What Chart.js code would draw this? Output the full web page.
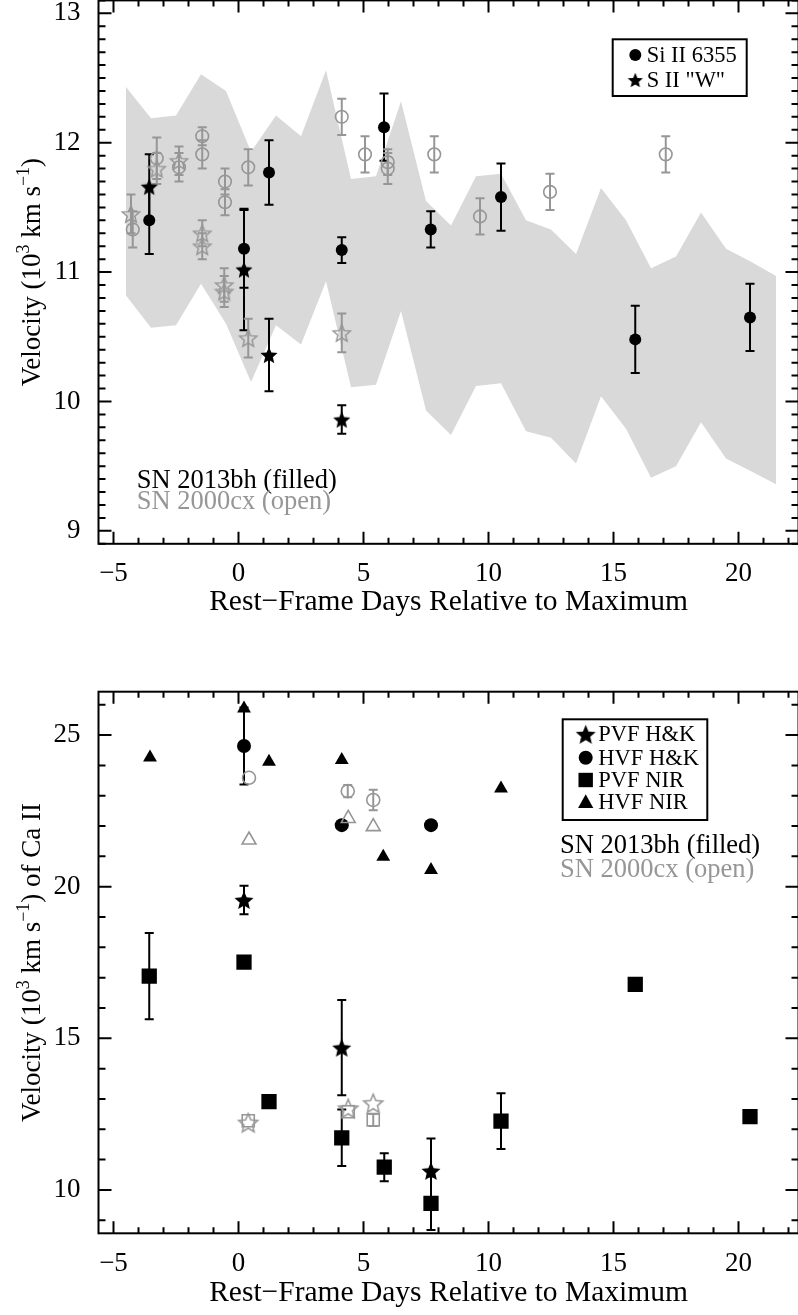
<!DOCTYPE html>
<html>
<head>
<meta charset="utf-8">
<script src="https://cdn.jsdelivr.net/npm/chart.js@4.4.0/dist/chart.umd.min.js"></script>
<style>
    html, body { margin: 0; padding: 0; background: #fff; overflow: hidden; }
    canvas { position: absolute; left: 0; }
    #graphique_si { top: 0; }
    #graphique_ca { top: 640px; }
</style>
</head>
<body>
<canvas id="graphique_si" width="800" height="640"></canvas>
<canvas id="graphique_ca" width="800" height="675"></canvas>
<script>
// ---- donnees : panneau du haut (Si II / S II) ----
const joursBande = [-4.5, -3.5, -2.5, -1.5, -0.5, 0.5, 1.5, 2.5, 3.5, 4.5, 5.5, 6.5, 7.5, 8.5, 9.5, 10.5, 11.5, 12.5, 13.5, 14.5, 15.5, 16.5, 17.5, 18.5, 19.5, 20.5, 21.5];
const bandeHaut = [12.43, 12.19, 12.21, 12.53, 12.40, 11.93, 12.21, 12.05, 12.56, 11.72, 11.74, 12.32, 11.55, 11.36, 11.74, 11.76, 11.40, 11.33, 11.14, 11.65, 11.40, 11.03, 11.12, 11.46, 11.18, 11.08, 10.97];
const bandeBas = [10.82, 10.57, 10.59, 10.91, 10.60, 10.15, 10.59, 10.44, 10.93, 10.11, 10.13, 10.70, 9.93, 9.74, 10.12, 10.14, 9.77, 9.72, 9.52, 10.04, 9.79, 9.41, 9.50, 9.84, 9.56, 9.46, 9.36];

const siJours = [-3.57, 0.22, 1.22, 4.13, 5.82, 7.69, 10.5, 15.87, 20.46];
const siVitesse = [11.40, 11.18, 11.77, 11.17, 12.12, 11.33, 11.58, 10.48, 10.65];
const siErreur = [0.26, 0.30, 0.25, 0.10, 0.26, 0.14, 0.26, 0.26, 0.26];

const sJours = [-3.57, 0.22, 1.22, 4.13];
const sVitesse = [11.66, 11.02, 10.36, 9.86];
const sErreur = [0.25, 0.47, 0.28, 0.11];

const cxSiJours = [-4.23, -3.27, -2.38, -1.45, -1.45, -0.54, -0.54, 0.39, 4.13, 5.06, 5.97, 5.97, 7.83, 9.66, 12.46, 17.09];
const cxSiVitesse = [11.33, 11.88, 11.81, 12.05, 11.91, 11.70, 11.54, 11.81, 12.20, 11.91, 11.85, 11.80, 11.91, 11.43, 11.62, 11.91];
const cxSiErreur = [0.14, 0.16, 0.11, 0.07, 0.11, 0.10, 0.10, 0.14, 0.14, 0.14, 0.10, 0.12, 0.14, 0.14, 0.14, 0.14];

const cxSJours = [-4.30, -3.27, -2.38, -1.45, -1.45, -0.57, -0.57, 0.39, 4.13];
const cxSVitesse = [11.45, 11.80, 11.86, 11.30, 11.20, 10.90, 10.85, 10.49, 10.53];
const cxSErreur = [0.15, 0.12, 0.11, 0.10, 0.10, 0.13, 0.12, 0.15, 0.15];

// ---- donnees : panneau du bas (Ca II) ----
const pvfHkJours = [0.22, 4.13, 7.70];
const pvfHkVitesse = [19.56, 14.69, 10.63];
const pvfHkErreur = [0.47, 1.57, 1.07];

const hvfHkJours = [0.22, 4.13, 7.70];
const hvfHkVitesse = [24.64, 22.03, 22.03];
const hvfHkErreur = [1.27, 0, 0];

const pvfNirJours = [-3.57, 0.22, 1.22, 4.13, 5.83, 7.70, 10.5, 15.87, 20.46];
const pvfNirVitesse = [17.05, 17.51, 12.91, 11.72, 10.75, 9.56, 12.27, 16.78, 12.42];
const pvfNirErreur = [1.42, 0, 0, 0.93, 0.46, 0.88, 0.92, 0, 0];

const hvfNirJours = [-3.54, 0.22, 1.22, 4.13, 5.79, 7.70, 10.5];
const hvfNirVitesse = [24.26, 25.88, 24.12, 24.18, 20.99, 20.55, 23.24];

const cxPvfHkJours = [0.39, 4.39, 5.39];
const cxPvfHkVitesse = [12.22, 12.69, 12.86];
const cxHvfHkJours = [0.42, 4.37, 5.39];
const cxHvfHkVitesse = [23.59, 23.15, 22.86];
const cxHvfHkErreur = [0, 0.20, 0.34];
const cxPvfNirJours = [0.39, 4.39, 5.39];
const cxPvfNirVitesse = [12.28, 12.58, 12.31];
const cxPvfNirErreur = [0, 0, 0.20];
const cxHvfNirJours = [0.42, 4.39, 5.39];
const cxHvfNirVitesse = [21.54, 22.25, 21.98];

const joursTicks = [-5, 0, 5, 10, 15, 20];

const GRIS = '#969696';
const BANDE = '#d9d9d9';
const POLICE = 'Liberation Serif';

function points(xs, ys) {
    return xs.map(function (x, i) { return { x: x, y: ys[i] }; });
}

function signe(v) {
    return v < 0 ? '\u2212' + Math.abs(v) : String(v);
}

// etoile a 5 branches, dessinee dans un petit canvas
function etoile(rayon, plein, couleur) {
    const c = document.createElement('canvas');
    const t = Math.ceil(rayon * 2 + 4);
    c.width = t;
    c.height = t;
    const ctx = c.getContext('2d');
    ctx.translate(t / 2, t / 2 + rayon * 0.1);
    ctx.beginPath();
    for (let i = 0; i < 10; i++) {
        const r = i % 2 === 0 ? rayon : rayon * 0.45;
        const a = -Math.PI / 2 + i * Math.PI / 5;
        ctx.lineTo(r * Math.cos(a), r * Math.sin(a));
    }
    ctx.closePath();
    if (plein) {
        ctx.fillStyle = couleur;
        ctx.fill();
    } else {
        ctx.strokeStyle = couleur;
        ctx.lineWidth = 1.5;
        ctx.stroke();
    }
    return c;
}

const etoileNoire = etoile(9, true, 'black');
const etoileGrise = etoile(9, false, GRIS);
const etoileNoireBas = etoile(10, true, 'black');
const etoileGriseBas = etoile(10, false, GRIS);

// barres d'erreur, cadre, ticks internes
function pluginErreurs() {
    return {
        id: 'erreurs',
        beforeDatasetsDraw(chart) {
            const ctx = chart.ctx;
            const y = chart.scales.y;
            chart.data.datasets.forEach(function (ds, i) {
                if (!ds.erreurs) return;
                const meta = chart.getDatasetMeta(i);
                ctx.save();
                ctx.strokeStyle = ds.couleurErreur;
                ctx.lineWidth = 2;
                ds.data.forEach(function (p, j) {
                    const e = ds.erreurs[j];
                    if (!e) return;
                    const px = meta.data[j].x;
                    const haut = y.getPixelForValue(p.y + e);
                    const bas = y.getPixelForValue(p.y - e);
                    ctx.beginPath();
                    ctx.moveTo(px, haut); ctx.lineTo(px, bas);
                    ctx.moveTo(px - 4.5, haut); ctx.lineTo(px + 4.5, haut);
                    ctx.moveTo(px - 4.5, bas); ctx.lineTo(px + 4.5, bas);
                    ctx.stroke();
                });
                ctx.restore();
            });
        }
    };
}

function pluginCadre(pasY, pasMinY) {
    return {
        id: 'cadre',
        afterDraw(chart) {
            const ctx = chart.ctx;
            const a = chart.chartArea;
            const sx = chart.scales.x;
            const sy = chart.scales.y;
            ctx.save();
            ctx.strokeStyle = 'black';
            ctx.lineWidth = 2;
            ctx.strokeRect(a.left, a.top, a.right - a.left, a.bottom - a.top);
            ctx.beginPath();
            for (let k = Math.ceil(sx.min); k <= sx.max; k++) {
                const px = sx.getPixelForValue(k);
                const l = k % 5 === 0 ? 12 : 6;
                ctx.moveTo(px, a.bottom); ctx.lineTo(px, a.bottom - l);
                ctx.moveTo(px, a.top); ctx.lineTo(px, a.top + l);
            }
            for (let k = Math.ceil(sy.min / pasMinY - 1e-6); k * pasMinY <= sy.max + 1e-9; k++) {
                const v = k * pasMinY;
                const py = sy.getPixelForValue(v);
                const r = v / pasY;
                const l = Math.abs(r - Math.round(r)) < 1e-6 ? 13 : 7;
                ctx.moveTo(a.left, py); ctx.lineTo(a.left + l, py);
                ctx.moveTo(a.right, py); ctx.lineTo(a.right - l, py);
            }
            ctx.stroke();
            ctx.restore();
        }
    };
}

function pluginTitreY(morceaux, xBase) {
    return {
        id: 'titreY',
        afterDraw(chart) {
            const ctx = chart.ctx;
            const a = chart.chartArea;
            const normal = '27px "' + POLICE + '"';
            const petit = '18px "' + POLICE + '"';
            let total = 0;
            morceaux.forEach(function (m) {
                ctx.font = m[1] ? petit : normal;
                total += ctx.measureText(m[0]).width;
            });
            ctx.save();
            ctx.translate(xBase, (a.top + a.bottom) / 2);
            ctx.rotate(-Math.PI / 2);
            ctx.fillStyle = 'black';
            ctx.textBaseline = 'alphabetic';
            let x = -total / 2;
            morceaux.forEach(function (m) {
                ctx.font = m[1] ? petit : normal;
                ctx.fillText(m[0], x, m[1] ? -11 : 0);
                x += ctx.measureText(m[0]).width;
            });
            ctx.restore();
        }
    };
}

function dessinerSymbole(ctx, type, x, y, taille) {
    ctx.fillStyle = 'black';
    if (type === 'cercle') {
        ctx.beginPath(); ctx.arc(x, y, taille, 0, Math.PI * 2); ctx.fill();
    } else if (type === 'carre') {
        ctx.fillRect(x - taille, y - taille, taille * 2, taille * 2);
    } else if (type === 'triangle') {
        ctx.beginPath();
        ctx.moveTo(x, y - taille);
        ctx.lineTo(x + taille * 0.95, y + taille * 0.7);
        ctx.lineTo(x - taille * 0.95, y + taille * 0.7);
        ctx.closePath(); ctx.fill();
    } else {
        const img = etoile(taille, true, 'black');
        ctx.drawImage(img, x - img.width / 2, y - img.height / 2);
    }
}

// legende encadree + textes SN
function pluginLegende(boite, lignes, textes) {
    return {
        id: 'legende',
        afterDraw(chart) {
            const ctx = chart.ctx;
            const dy = chart.canvas.offsetTop;
            ctx.save();
            ctx.fillStyle = 'white';
            ctx.fillRect(boite[0], boite[1] - dy, boite[2], boite[3]);
            ctx.strokeStyle = 'black';
            ctx.lineWidth = 2;
            ctx.strokeRect(boite[0], boite[1] - dy, boite[2], boite[3]);
            ctx.font = '22.5px "' + POLICE + '"';
            ctx.textBaseline = 'middle';
            lignes.forEach(function (l) {
                dessinerSymbole(ctx, l.symbole, l.x, l.y - dy, l.taille);
                ctx.fillStyle = 'black';
                ctx.fillText(l.texte, l.xTexte, l.y - dy + 1);
            });
            ctx.textBaseline = 'alphabetic';
            ctx.font = '26.5px "' + POLICE + '"';
            textes.forEach(function (t) {
                ctx.fillStyle = t.couleur;
                ctx.fillText(t.texte, t.x, t.y - dy);
            });
            ctx.restore();
        }
    };
}

function axes(yMin, yMax, yPas, hauteurX, titreBas) {
    return {
        x: {
            type: 'linear', min: -5.6, max: 22.4,
            grid: { display: false }, border: { display: false },
            afterBuildTicks: function (s) { s.ticks = joursTicks.map(function (v) { return { value: v }; }); },
            ticks: { padding: 6, color: 'black', maxRotation: 0, autoSkip: false, font: { family: POLICE, size: 27 }, callback: signe },
            title: { display: true, text: 'Rest\u2212Frame Days Relative to Maximum', color: 'black', font: { family: POLICE, size: 29.5 }, padding: { top: 0, bottom: titreBas } },
            afterFit: function (s) { s.height = hauteurX; s.paddingLeft = 0; s.paddingRight = 0; }
        },
        y: {
            type: 'linear', min: yMin, max: yMax,
            grid: { display: false }, border: { display: false },
            ticks: { stepSize: yPas, includeBounds: false, padding: 10, color: 'black', font: { family: POLICE, size: 27 } },
            afterFit: function (s) { s.width = 98.5; s.paddingTop = 0; s.paddingBottom = 0; }
        }
    };
}

const optionsCommunes = {
    responsive: false,
    animation: false,
    events: [],
    plugins: { legend: { display: false }, tooltip: { enabled: false }, filler: { drawTime: 'beforeDatasetsDraw' } }
};

// ---- panneau du haut ----
new Chart(document.getElementById('graphique_si'), {
    type: 'scatter',
    data: {
        datasets: [
            { label: 'SN 2013bh Si II', data: points(siJours, siVitesse), erreurs: siErreur, couleurErreur: 'black', pointStyle: 'circle', pointRadius: 6, backgroundColor: 'black', borderColor: 'black', borderWidth: 0 },
            { label: 'SN 2013bh S II', data: points(sJours, sVitesse), erreurs: sErreur, couleurErreur: 'black', pointStyle: etoileNoire },
            { label: 'SN 2000cx Si II', data: points(cxSiJours, cxSiVitesse), erreurs: cxSiErreur, couleurErreur: GRIS, pointStyle: 'circle', pointRadius: 6.3, backgroundColor: 'transparent', borderColor: GRIS, borderWidth: 1.6 },
            { label: 'SN 2000cx S II', data: points(cxSJours, cxSVitesse), erreurs: cxSErreur, couleurErreur: GRIS, pointStyle: etoileGrise },
            { label: 'bande haut', data: points(joursBande, bandeHaut), showLine: true, pointRadius: 0, borderWidth: 0, borderColor: 'transparent', backgroundColor: BANDE, fill: '+1', order: 10 },
            { label: 'bande bas', data: points(joursBande, bandeBas), showLine: true, pointRadius: 0, borderWidth: 0, borderColor: 'transparent', fill: false, order: 11 }
        ]
    },
    options: Object.assign({}, optionsCommunes, {
        layout: { autoPadding: false, padding: { top: 0.4, right: 1.5, left: 0, bottom: 0 } },
        scales: axes(8.9, 13.1, 1, 96.2, 20)
    }),
    plugins: [
        pluginErreurs(),
        pluginCadre(1, 0.1),
        pluginTitreY([['Velocity (10', false], ['3', true], [' km s', false], ['\u22121', true], [')', false]], 40),
        pluginLegende([612.7, 39.3, 134, 56.7], [
            { symbole: 'cercle', taille: 6, x: 635.3, y: 55, xTexte: 646.7, texte: 'Si II 6355' },
            { symbole: 'etoile', taille: 8, x: 635.3, y: 80, xTexte: 646.7, texte: 'S II "W"' }
        ], [
            { texte: 'SN 2013bh (filled)', x: 136.7, y: 488.3, couleur: 'black' },
            { texte: 'SN 2000cx (open)', x: 136.7, y: 509.3, couleur: GRIS }
        ])
    ]
});

// ---- panneau du bas ----
new Chart(document.getElementById('graphique_ca'), {
    type: 'scatter',
    data: {
        datasets: [
            { label: 'SN 2000cx PVF H&K', data: points(cxPvfHkJours, cxPvfHkVitesse), pointStyle: etoileGriseBas },
            { label: 'SN 2000cx HVF H&K', data: points(cxHvfHkJours, cxHvfHkVitesse), erreurs: cxHvfHkErreur, couleurErreur: GRIS, pointStyle: 'circle', pointRadius: 6.5, backgroundColor: 'transparent', borderColor: GRIS, borderWidth: 1.6 },
            { label: 'SN 2000cx PVF NIR', data: points(cxPvfNirJours, cxPvfNirVitesse), erreurs: cxPvfNirErreur, couleurErreur: GRIS, pointStyle: 'rect', pointRadius: 8.5, backgroundColor: 'transparent', borderColor: GRIS, borderWidth: 1.6 },
            { label: 'SN 2000cx HVF NIR', data: points(cxHvfNirJours, cxHvfNirVitesse), pointStyle: 'triangle', pointRadius: 8, backgroundColor: 'transparent', borderColor: GRIS, borderWidth: 1.6 },
            { label: 'PVF H&K', data: points(pvfHkJours, pvfHkVitesse), erreurs: pvfHkErreur, couleurErreur: 'black', pointStyle: etoileNoireBas },
            { label: 'HVF H&K', data: points(hvfHkJours, hvfHkVitesse), erreurs: hvfHkErreur, couleurErreur: 'black', pointStyle: 'circle', pointRadius: 7, backgroundColor: 'black', borderColor: 'black', borderWidth: 0 },
            { label: 'PVF NIR', data: points(pvfNirJours, pvfNirVitesse), erreurs: pvfNirErreur, couleurErreur: 'black', pointStyle: 'rect', pointRadius: 10.8, backgroundColor: 'black', borderColor: 'black', borderWidth: 0 },
            { label: 'HVF NIR', data: points(hvfNirJours, hvfNirVitesse), pointStyle: 'triangle', pointRadius: 8, backgroundColor: 'black', borderColor: 'black', borderWidth: 0 }
        ]
    },
    options: Object.assign({}, optionsCommunes, {
        layout: { autoPadding: false, padding: { top: 51.7, right: 1.5, left: 0, bottom: 0 } },
        scales: axes(8.57, 26.43, 5, 81.7, 4)
    }),
    plugins: [
        pluginErreurs(),
        pluginCadre(5, 1),
        pluginTitreY([['Velocity (10', false], ['3', true], [' km s', false], ['\u22121', true], [') of Ca II', false]], 40),
        pluginLegende([562.7, 719.3, 144.6, 100.7], [
            { symbole: 'etoile', taille: 10.5, x: 585.7, y: 734.3, xTexte: 598.3, texte: 'PVF H&K' },
            { symbole: 'cercle', taille: 7, x: 585.7, y: 757.7, xTexte: 598.3, texte: 'HVF H&K' },
            { symbole: 'carre', taille: 7.2, x: 585.7, y: 780, xTexte: 598.3, texte: 'PVF NIR' },
            { symbole: 'triangle', taille: 8, x: 585.7, y: 802.3, xTexte: 598.3, texte: 'HVF NIR' }
        ], [
            { texte: 'SN 2013bh (filled)', x: 560, y: 853.3, couleur: 'black' },
            { texte: 'SN 2000cx (open)', x: 560, y: 876.7, couleur: GRIS }
        ])
    ]
});
</script>
</body>
</html>
